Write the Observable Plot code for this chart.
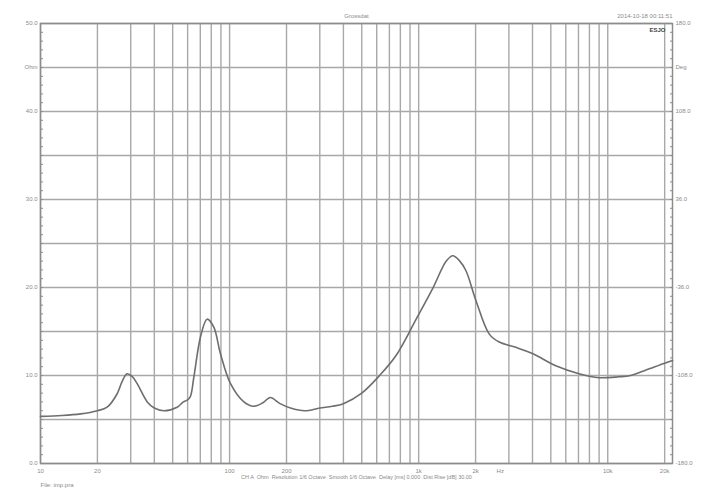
<!DOCTYPE html>
<html>
<head>
<meta charset="utf-8">
<script src="https://cdn.jsdelivr.net/npm/d3@7"></script>
<script src="https://cdn.jsdelivr.net/npm/@observablehq/plot@0.6"></script>
<style>
  html, body { margin: 0; padding: 0; background: #fff; }
  #chart svg { display: block; }
</style>
</head>
<body>
<div id="chart"></div>
<script>
// Impedance curve (Hz, Ohm)
const freq = [10, 13, 16.3, 20, 22.5, 25.4, 27, 28.7, 30.5, 32.4, 36.7, 40, 45, 52.8, 57, 59.7, 62, 64.7, 70.2, 76, 82.5, 89.4, 101, 119, 134, 150, 164, 185, 210, 250, 300, 350, 400, 500, 621, 761, 970, 1187, 1400, 1514, 1650, 1779, 2010, 2363, 2667, 3265, 4000, 5310, 7047, 8990, 11460, 13200, 15850, 20000, 22000];
const ohm  = [5.35, 5.45, 5.64, 6.0, 6.4, 7.9, 9.3, 10.2, 9.9, 9.1, 7.0, 6.3, 6.0, 6.4, 7.0, 7.2, 7.6, 9.8, 14.4, 16.4, 15.5, 12.5, 9.1, 7.0, 6.5, 6.9, 7.5, 6.8, 6.3, 6.0, 6.3, 6.5, 6.8, 8.0, 10.0, 12.3, 16.4, 19.9, 23.0, 23.6, 23.0, 21.9, 18.5, 14.7, 13.8, 13.2, 12.5, 11.1, 10.2, 9.75, 9.85, 10.0, 10.6, 11.4, 11.7];

// Axes
const xDomain = [10, 22000];
const xGridValues = [10,20,30,40,50,60,70,80,90,100,200,300,400,500,600,700,800,900,1000,2000,3000,4000,5000,6000,7000,8000,9000,10000,20000];
const xTickValues = [10, 20, 50, 100, 200, 500, 1000, 2000, 2700, 5000, 10000, 20000];
const xTickLabels = ["10", "20", "50", "100", "200", "500", "1k", "2k", "Hz", "5k", "10k", "20k"];
const yDomain = [0, 50];
const yGridValues = [0,5,10,15,20,25,30,35,40,45,50];
const yMinorTicks = d3.range(0, 51, 1);
const yTickValues = [0, 10, 20, 30, 40, 45, 50];
const yLeftLabels = ["0.0", "10.0", "20.0", "30.0", "40.0", "Ohm", "50.0"];
const yRightLabels = ["-180.0", "-108.0", "-36.0", "36.0", "108.0", "Deg", "180.0"];

// Texts
const titleText = "Grossdat";
const dateText = "2014-10-18 00:11:51";
const markText = "ESJO";
const infoText = "CH A  Ohm  Resolution 1/6 Octave  Smooth 1/6 Octave  Delay [ms] 0.000  Dist Rise [dB] 30.00";
const fileText = "File: imp.pra";

const data = freq.map((f, i) => ({f, z: ohm[i]}));
const xLab = new Map(xTickValues.map((v, i) => [v, xTickLabels[i]]));
const yL = new Map(yTickValues.map((v, i) => [v, yLeftLabels[i]]));
const yR = new Map(yTickValues.map((v, i) => [v, yRightLabels[i]]));

const txt = "#8a8a8a";
const gridC = "#a8a8a8";

const chart = Plot.plot({
  width: 705,
  height: 496,
  marginLeft: 40,
  marginRight: 33,
  marginTop: 23,
  marginBottom: 33,
  style: {fontFamily: "Liberation Sans, Arial, sans-serif", fontSize: "6px", color: txt, background: "#fff"},
  x: {type: "log", domain: xDomain},
  y: {domain: yDomain},
  marks: [
    Plot.gridX(xGridValues, {stroke: gridC, strokeOpacity: 1, strokeWidth: 1.4}),
    Plot.gridY(yGridValues, {stroke: gridC, strokeOpacity: 1, strokeWidth: 1.4}),
    Plot.frame({stroke: "#8c8c8c", strokeWidth: 1.5}),
    Plot.axisX({ticks: xTickValues, tickFormat: d => xLab.get(d), tickSize: 0, tickPadding: 5, label: null, fill: txt, fontSize: 6}),
    Plot.axisY({anchor: "left", ticks: yTickValues, tickFormat: d => yL.get(d), tickSize: 0, tickPadding: 3, label: null, fill: txt, fontSize: 6}),
    Plot.axisY({anchor: "right", ticks: yTickValues, tickFormat: d => yR.get(d), tickSize: 0, tickPadding: 3, label: null, fill: txt, fontSize: 6}),
    Plot.axisY({anchor: "left", ticks: yMinorTicks, tickSize: 3, dx: 3, text: null, label: null, stroke: "#8c8c8c"}),
    Plot.axisY({anchor: "right", ticks: yMinorTicks, tickSize: 3, dx: -3, text: null, label: null, stroke: "#8c8c8c"}),
    Plot.line(data, {x: "f", y: "z", curve: "catmull-rom", stroke: "#6e6e6e", strokeWidth: 1.6}),
    Plot.text([titleText], {text: d => d, frameAnchor: "top", dy: -10, fill: txt, fontSize: 6}),
    Plot.text([dateText], {text: d => d, frameAnchor: "top-right", textAnchor: "end", dy: -10, dx: 0, fill: txt, fontSize: 6}),
    Plot.text([markText], {text: d => d, frameAnchor: "top-right", textAnchor: "end", dy: 4, dx: -7, fill: "#444", fontSize: 6, fontWeight: "bold"}),
    Plot.text([infoText], {text: d => d, frameAnchor: "bottom", dy: 15, fill: txt, fontSize: 5.5}),
    Plot.text([fileText], {text: d => d, frameAnchor: "bottom-left", textAnchor: "start", dy: 23, dx: 0, fill: txt, fontSize: 6})
  ]
});
document.getElementById("chart").appendChild(chart);
</script>
</body>
</html>
